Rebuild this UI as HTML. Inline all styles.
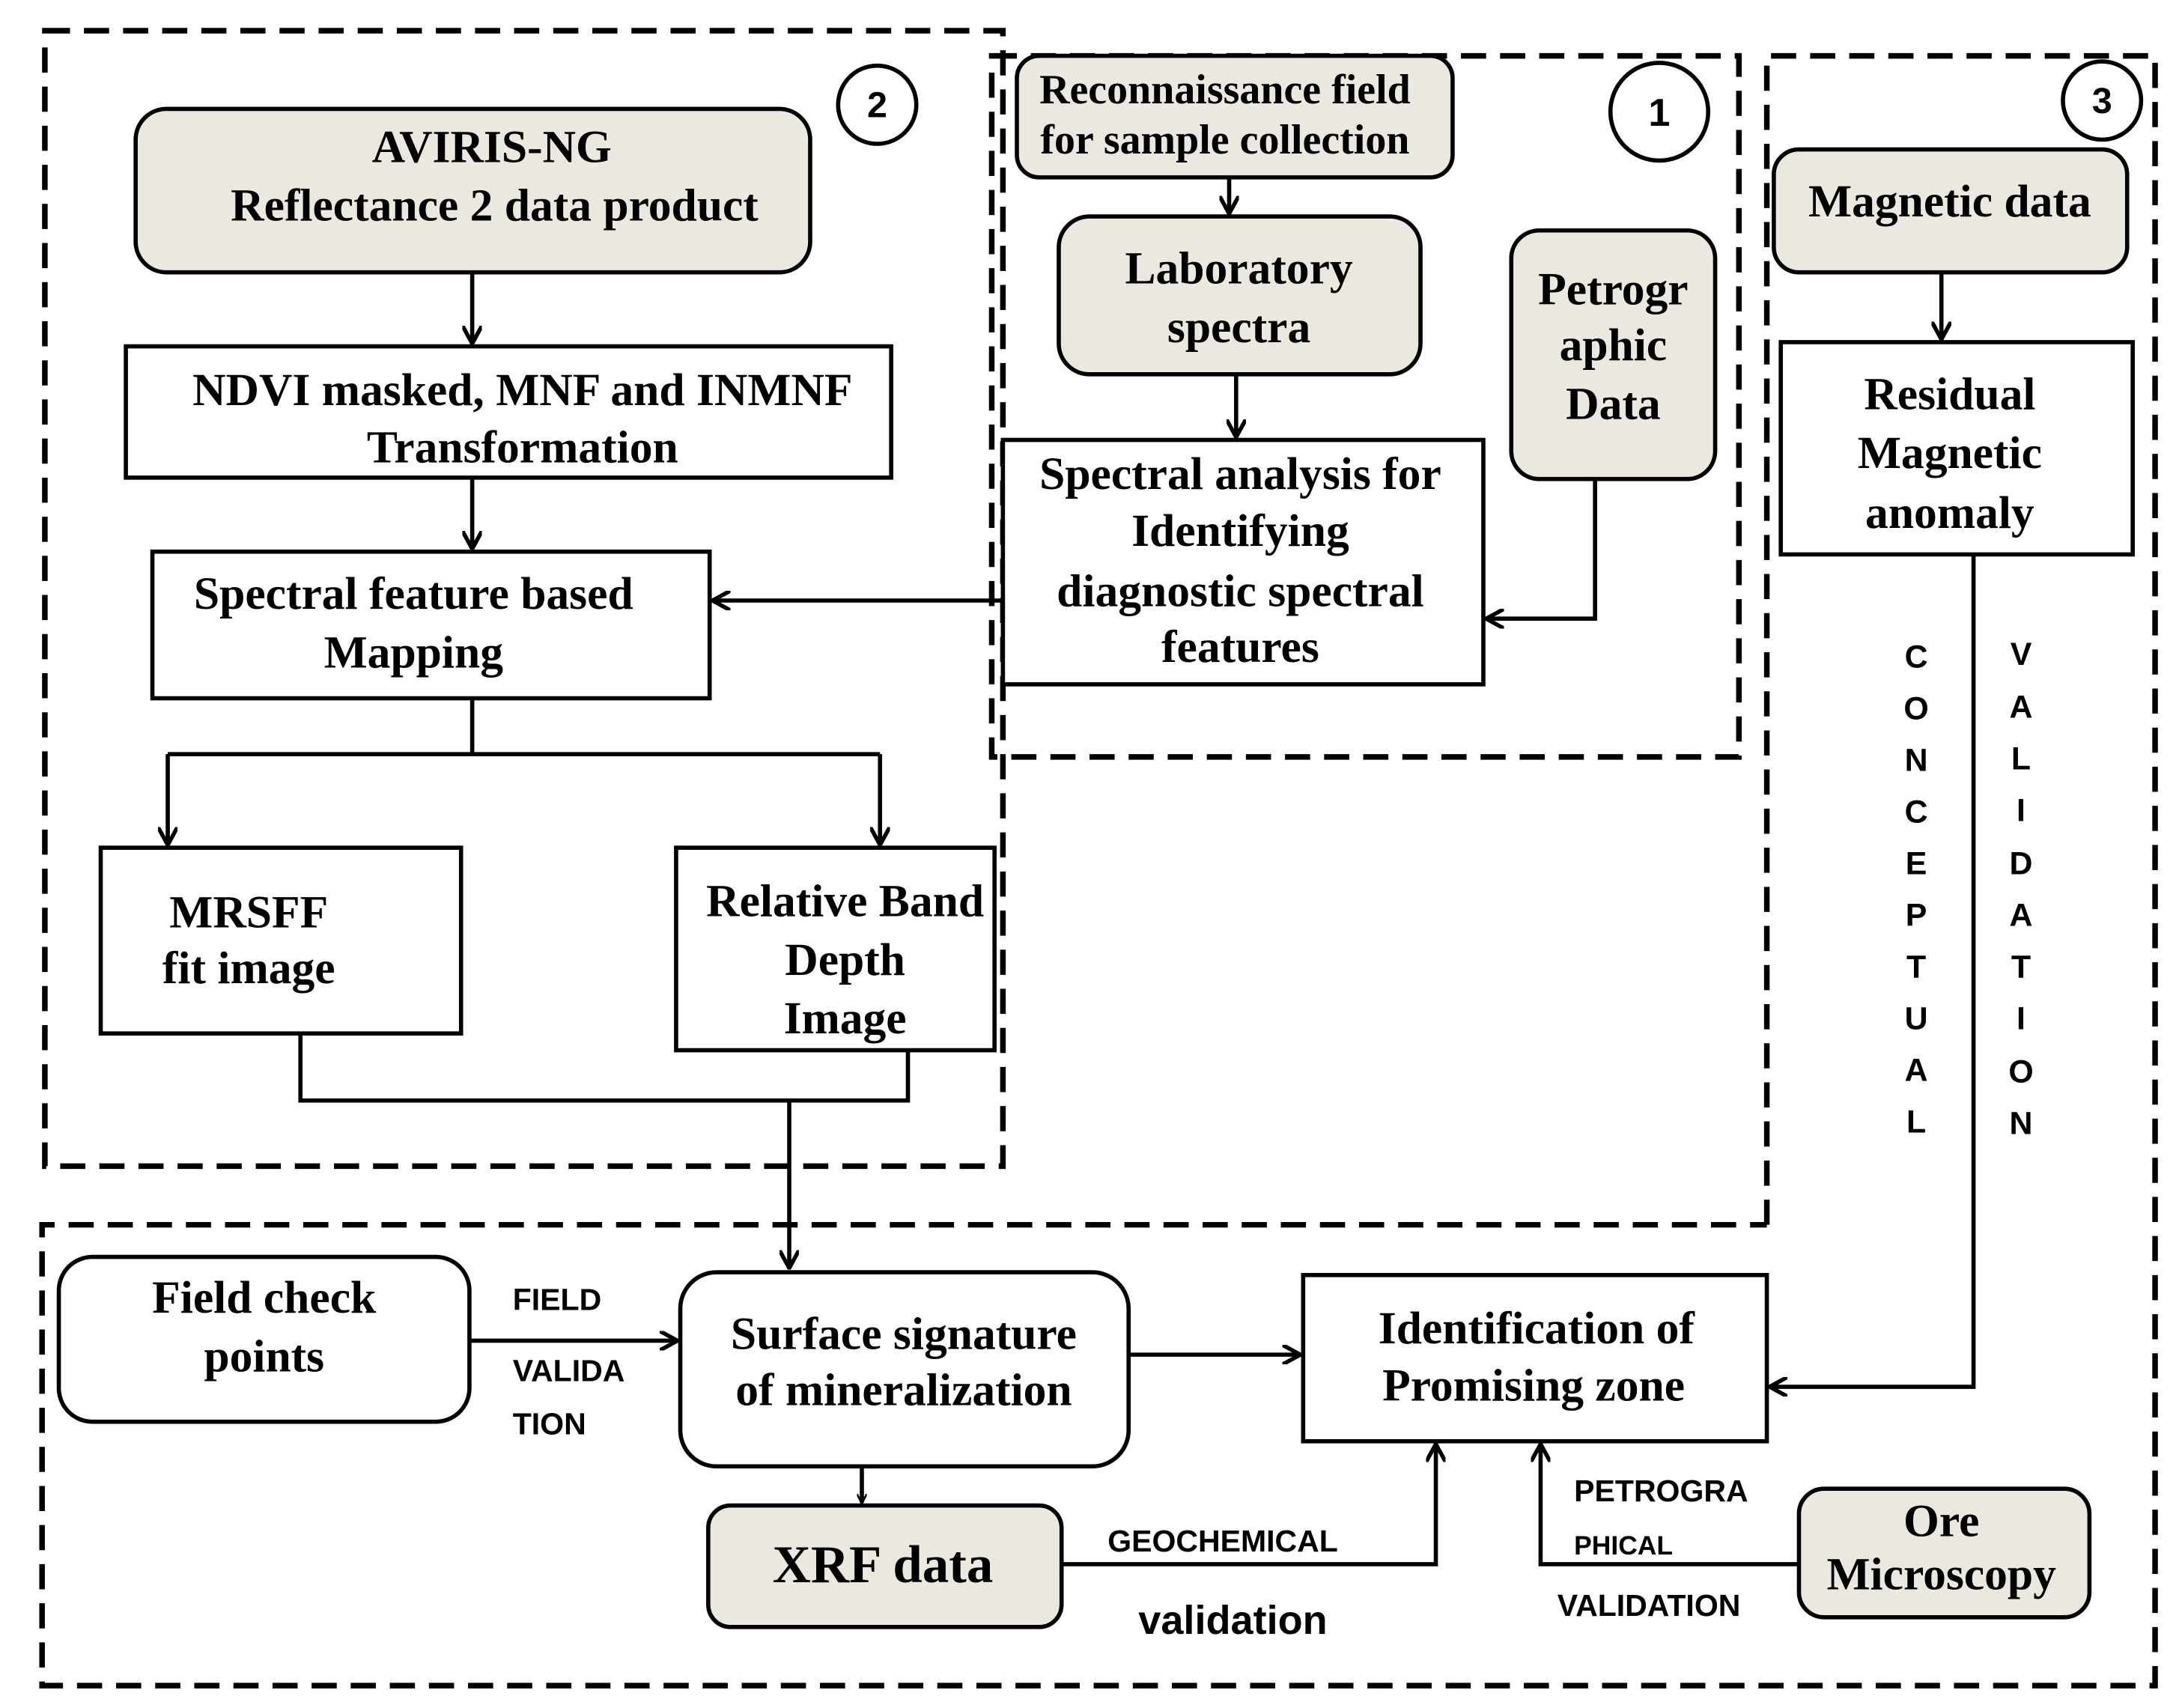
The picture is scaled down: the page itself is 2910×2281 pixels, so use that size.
<!DOCTYPE html>
<html><head><meta charset="utf-8"><style>
html,body{margin:0;padding:0;background:#fff;}
svg{display:block;}
.s{font-family:"Liberation Serif",serif;font-weight:bold;font-size:33px;fill:#000;text-anchor:middle;}
.l{font-family:"Liberation Sans",sans-serif;font-weight:bold;font-size:22px;fill:#000;}
.v{font-family:"Liberation Sans",sans-serif;font-weight:bold;font-size:23px;fill:#000;text-anchor:middle;}
</style></head><body>
<svg width="2910" height="2281" viewBox="0 0 1560 1223" xmlns="http://www.w3.org/2000/svg">
<defs><marker id="a" viewBox="0 0 10 10" refX="9" refY="5" markerWidth="7" markerHeight="7" orient="auto" markerUnits="userSpaceOnUse"><path d="M0,0 L10,5 L0,10" fill="none" stroke="#000" stroke-width="2"/></marker>
<marker id="b" viewBox="0 0 12 12" refX="11" refY="6" markerWidth="14" markerHeight="14" orient="auto" markerUnits="userSpaceOnUse"><path d="M0,0 L11,6 L0,12" fill="none" stroke="#000" stroke-width="2.5"/></marker></defs>
<g fill="none" stroke="#000" stroke-width="4" stroke-dasharray="18,10">
<rect x="32" y="22" width="686" height="813"/>
<rect x="710" y="40" width="535" height="502"/>
<path d="M1265,877 V40 H1543 V1207 H30 V877 H1265"/>
</g>
<g fill="none" stroke="#000" stroke-width="3">
<circle cx="628" cy="75" r="28"/><circle cx="1188" cy="80" r="35"/><circle cx="1505" cy="72" r="28"/>
</g>
<text class="v" x="628" y="84" style="font-size:26px">2</text>
<text class="v" x="1188" y="90" style="font-size:28px">1</text>
<text class="v" x="1505" y="81" style="font-size:26px">3</text>
<g stroke="#000" stroke-width="3">
<rect x="97" y="78" width="483" height="117" rx="22" fill="#ebe8df"/>
<rect x="90" y="248" width="548" height="94" fill="#fff"/>
<rect x="109" y="395" width="399" height="105" fill="#fff"/>
<rect x="72" y="607" width="258" height="133" fill="#fff"/>
<rect x="484" y="607" width="228" height="145" fill="#fff"/>
<rect x="728" y="40" width="312" height="87" rx="16" fill="#ebe8df"/>
<rect x="758" y="155" width="259" height="113" rx="22" fill="#ebe8df"/>
<rect x="1082" y="165" width="146" height="178" rx="20" fill="#ebe8df"/>
<rect x="718" y="315" width="344" height="175" fill="#fff"/>
<rect x="1270" y="107" width="253" height="88" rx="18" fill="#ebe8df"/>
<rect x="1275" y="245" width="252" height="152" fill="#fff"/>
<rect x="42" y="900" width="294" height="118" rx="24" fill="#fff"/>
<rect x="487" y="911" width="321" height="139" rx="26" fill="#fff"/>
<rect x="933" y="913" width="332" height="119" fill="#fff"/>
<rect x="507" y="1078" width="253" height="87" rx="16" fill="#ebe8df"/>
<rect x="1288" y="1066" width="208" height="92" rx="18" fill="#ebe8df"/>
</g>
<g fill="none" stroke="#000" stroke-width="3">
<path d="M338,195 V246" marker-end="url(#b)"/>
<path d="M338,342 V393" marker-end="url(#b)"/>
<path d="M718,430 H510" marker-end="url(#b)"/>
<path d="M338,500 V540"/>
<path d="M120,540 H630"/>
<path d="M120,540 V605" marker-end="url(#b)"/>
<path d="M630,540 V605" marker-end="url(#b)"/>
<path d="M215,740 V788 H650 V752"/>
<path d="M565,788 V908" marker-end="url(#b)"/>
<path d="M880,127 V153" marker-end="url(#b)"/>
<path d="M885,268 V313" marker-end="url(#b)"/>
<path d="M1142,343 V443 H1064" marker-end="url(#b)"/>
<path d="M1390,195 V243" marker-end="url(#b)"/>
<path d="M1413,397 V993 H1267" marker-end="url(#b)"/>
<path d="M336,960 H485" marker-end="url(#b)"/>
<path d="M808,970 H931" marker-end="url(#b)"/>
<path d="M617,1050 V1076" marker-end="url(#a)"/>
<path d="M760,1120 H1028 V1034" marker-end="url(#b)"/>
<path d="M1288,1120 H1103 V1034" marker-end="url(#b)"/>
</g>
<text class="s" x="352" y="116">AVIRIS-NG</text>
<text class="s" x="354" y="158">Reflectance 2 data product</text>
<text class="s" x="374" y="290">NDVI masked, MNF and INMNF</text>
<text class="s" x="374" y="331">Transformation</text>
<text class="s" x="296" y="436">Spectral feature based</text>
<text class="s" x="296" y="478">Mapping</text>
<text class="s" x="178" y="664">MRSFF</text>
<text class="s" x="178" y="704">fit image</text>
<text class="s" x="605" y="656">Relative Band</text>
<text class="s" x="605" y="698">Depth</text>
<text class="s" x="605" y="740">Image</text>
<text class="s" x="877" y="74" style="font-size:30px">Reconnaissance field</text>
<text class="s" x="877" y="110" style="font-size:30px">for sample collection</text>
<text class="s" x="887" y="203">Laboratory</text>
<text class="s" x="887" y="245">spectra</text>
<text class="s" x="1155" y="218">Petrogr</text>
<text class="s" x="1155" y="258">aphic</text>
<text class="s" x="1155" y="300">Data</text>
<text class="s" x="888" y="350">Spectral analysis for</text>
<text class="s" x="888" y="391">Identifying</text>
<text class="s" x="888" y="434">diagnostic spectral</text>
<text class="s" x="888" y="474">features</text>
<text class="s" x="1396" y="155">Magnetic data</text>
<text class="s" x="1396" y="293">Residual</text>
<text class="s" x="1396" y="335">Magnetic</text>
<text class="s" x="1396" y="378">anomaly</text>
<g class="v">
<text x="1372" y="478">C</text><text x="1372" y="515">O</text><text x="1372" y="552">N</text><text x="1372" y="589">C</text><text x="1372" y="626">E</text><text x="1372" y="663">P</text><text x="1372" y="700">T</text><text x="1372" y="737">U</text><text x="1372" y="774">A</text><text x="1372" y="811">L</text>
<text x="1447" y="476">V</text><text x="1447" y="514">A</text><text x="1447" y="551">L</text><text x="1447" y="588">I</text><text x="1447" y="626">D</text><text x="1447" y="663">A</text><text x="1447" y="700">T</text><text x="1447" y="737">I</text><text x="1447" y="775">O</text><text x="1447" y="812">N</text>
</g>
<text class="s" x="189" y="940">Field check</text>
<text class="s" x="189" y="982">points</text>
<text class="s" x="647" y="966">Surface signature</text>
<text class="s" x="647" y="1006">of mineralization</text>
<text class="s" x="1100" y="962">Identification of</text>
<text class="s" x="1098" y="1003">Promising zone</text>
<text class="s" x="632" y="1133" style="font-size:38px">XRF data</text>
<text class="s" x="1390" y="1100">Ore</text>
<text class="s" x="1390" y="1138">Microscopy</text>
<text class="l" x="367" y="938">FIELD</text>
<text class="l" x="367" y="989">VALIDA</text>
<text class="l" x="367" y="1027">TION</text>
<text class="l" x="793" y="1111">GEOCHEMICAL</text>
<text class="l" x="815" y="1170" style="font-size:29px">validation</text>
<text class="l" x="1127" y="1075">PETROGRA</text>
<text class="l" x="1127" y="1113" style="font-size:19px">PHICAL</text>
<text class="l" x="1115" y="1157">VALIDATION</text>
</svg>
</body></html>
